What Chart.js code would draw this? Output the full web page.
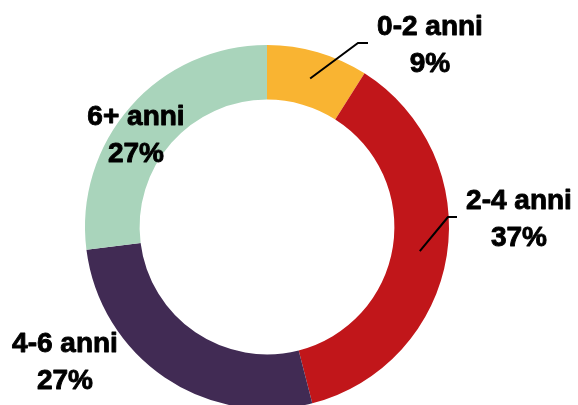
<!DOCTYPE html>
<html>
<head>
<meta charset="utf-8">
<script src="https://cdn.jsdelivr.net/npm/chart.js@4/dist/chart.umd.min.js"></script>
<style>
  html, body { margin: 0; padding: 0; background: #fff; overflow: hidden; }
  canvas { display: block; }
</style>
</head>
<body>
<canvas id="chart" width="578" height="405"></canvas>
<script>
// Age groups and their share (%)
const categories = ['0-2 anni', '2-4 anni', '4-6 anni', '6+ anni'];
const shares = [9, 37, 27, 27];
const colors = ['#F9B432', '#C1161A', '#412B54', '#A9D4BB'];

// Label placement for each slice: text centre x, first baseline y, optional leader elbow
const labelLayout = [
    { x: 430, y: 35, elbow: [358, 43], end: [368, 43] },
    { x: 519, y: 209, elbow: [448, 217], end: [457, 217] },
    { x: 65, y: 352 },
    { x: 136, y: 125 }
];

const sliceLabels = {
    id: 'sliceLabels',
    afterDatasetsDraw(chart) {
        const ctx = chart.ctx;
        const meta = chart.getDatasetMeta(0);
        ctx.save();
        meta.data.forEach((arc, i) => {
            const pos = labelLayout[i];
            if (pos.elbow) {
                const c = arc.getCenterPoint();
                ctx.beginPath();
                ctx.strokeStyle = '#000';
                ctx.lineWidth = 2;
                ctx.moveTo(c.x, c.y);
                ctx.lineTo(pos.elbow[0], pos.elbow[1]);
                ctx.lineTo(pos.end[0], pos.end[1]);
                ctx.stroke();
            }
            // slightly heavier than plain bold, like the original
            ctx.fillStyle = '#000';
            ctx.strokeStyle = '#000';
            ctx.lineWidth = 0.9;
            ctx.lineJoin = 'round';
            ctx.font = 'bold 28px "Liberation Sans", Arial, sans-serif';
            ctx.textAlign = 'center';
            ctx.textBaseline = 'alphabetic';
            const lines = [categories[i], shares[i] + '%'];
            lines.forEach((t, k) => {
                ctx.fillText(t, pos.x, pos.y + k * 37);
                ctx.strokeText(t, pos.x, pos.y + k * 37);
            });
        });
        ctx.restore();
    }
};

new Chart(document.getElementById('chart'), {
    type: 'doughnut',
    data: {
        labels: categories,
        datasets: [{
            data: shares,
            backgroundColor: colors,
            borderWidth: 0,
            radius: 182,
            clip: false
        }]
    },
    options: {
        responsive: false,
        animation: false,
        cutout: '70%',
        layout: { padding: { left: 0, right: 44, top: 49, bottom: 0 } },
        plugins: {
            legend: { display: false },
            tooltip: { enabled: false }
        }
    },
    plugins: [sliceLabels]
});
</script>
</body>
</html>
